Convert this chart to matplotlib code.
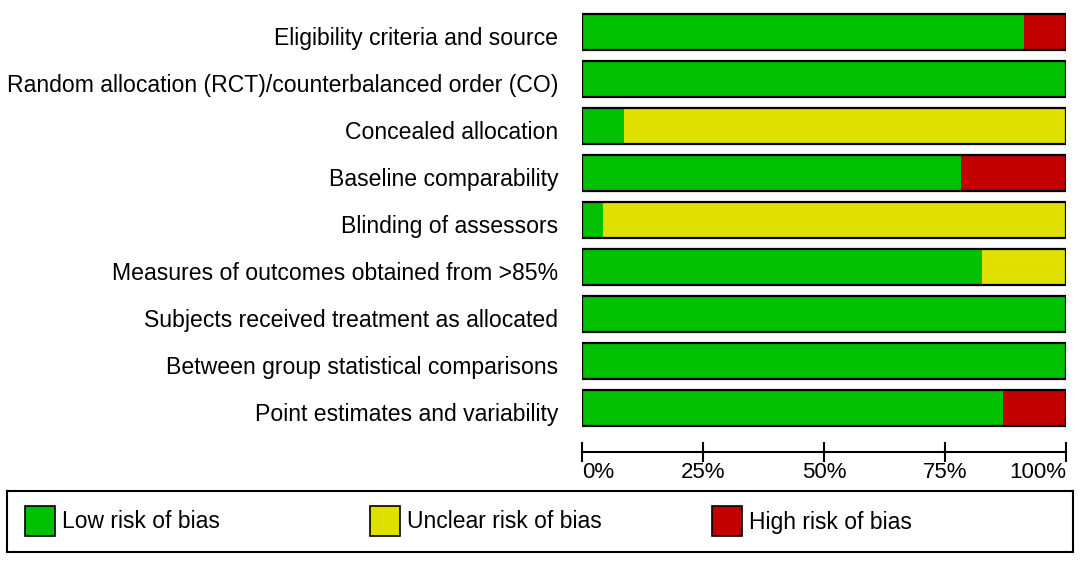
import matplotlib
matplotlib.use("Agg")
import matplotlib.pyplot as plt
from matplotlib.patches import Rectangle
from matplotlib.transforms import ScaledTranslation

plt.rcParams['font.family'] = ['Liberation Sans', 'DejaVu Sans']

# risk of bias domains (top to bottom)
domains = [
    "Eligibility criteria and source",
    "Random allocation (RCT)/counterbalanced order (CO)",
    "Concealed allocation",
    "Baseline comparability",
    "Blinding of assessors",
    "Measures of outcomes obtained from >85%",
    "Subjects received treatment as allocated",
    "Between group statistical comparisons",
    "Point estimates and variability",
]
# percent of studies (23 studies)
low = [91.3, 100, 8.7, 78.3, 4.3, 82.6, 100, 100, 87.0]
unclear = [0, 0, 91.3, 0, 95.7, 17.4, 0, 0, 0]
high = [8.7, 0, 0, 21.7, 0, 0, 0, 0, 13.0]
legend_names = ["Low risk of bias", "Unclear risk of bias", "High risk of bias"]
colors = ["#02C002", "#E0E000", "#C20000"]
xticks = [0, 25, 50, 75, 100]
xticklabels = ["0%", "25%", "50%", "75%", "100%"]

W, H = 1084, 562
fig = plt.figure(figsize=(W / 100, H / 100), dpi=100)
ax = fig.add_axes([582 / W, 1 - 452 / H, (1066 - 582) / W, (452 - 8.5) / H])

ys = list(range(len(domains)))
bh = 0.766
left = [0] * len(domains)
for vals, c in zip([low, unclear, high], colors):
    ax.barh(ys, vals, left=left, height=bh, color=c, edgecolor="none")
    left = [a + b for a, b in zip(left, vals)]
ax.barh(ys, left, height=bh, fill=False, edgecolor="black", linewidth=1.6)

ax.set_xlim(0, 100)
ax.set_ylim(len(domains) - 1 + 0.936, -0.5)
ax.set_yticks(ys)
ax.set_yticklabels(domains, fontsize=16.6)
ax.tick_params(axis="y", length=0, pad=17)
shift = ScaledTranslation(0, -4 / 100, fig.dpi_scale_trans)
for lab in ax.get_yticklabels():
    lab.set_transform(lab.get_transform() + shift)
for s in ["top", "right", "left"]:
    ax.spines[s].set_visible(False)
ax.spines["bottom"].set_linewidth(1.5)
ax.set_xticks(xticks)
ax.set_xticklabels(xticklabels, fontsize=16)
ax.tick_params(axis="x", direction="inout", length=14, width=1.5, pad=0)
labs = ax.get_xticklabels()
labs[0].set_ha("left")
labs[-1].set_ha("right")

# legend box
lax = fig.add_axes([7 / W, 1 - 552 / H, (1073 - 7) / W, (552 - 491) / H])
lax.set_xlim(0, 1066)
lax.set_ylim(61, 0)
lax.set_xticks([])
lax.set_yticks([])
for s in lax.spines.values():
    s.set_linewidth(1.5)
patch_x = [18, 363, 705]
for px, name, c in zip(patch_x, legend_names, colors):
    lax.add_patch(Rectangle((px, 15), 30, 30, facecolor=c, edgecolor="black", linewidth=1.2))
    lax.text(px + 37, 31, name, fontsize=16.5, va="center", ha="left")

fig.savefig("out.png", dpi=100)
